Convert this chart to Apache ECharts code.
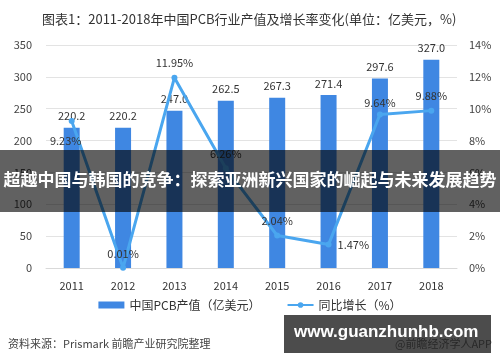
<!DOCTYPE html>
<html><head><meta charset="utf-8">
<script src="https://cdn.jsdelivr.net/npm/echarts@6/dist/echarts.min.js"></script>
<style>html,body{margin:0;padding:0;background:#fff}#c{width:500px;height:362px}</style>
</head><body><div id="c"></div>
<script>
const years = ['2011','2012','2013','2014','2015','2016','2017','2018'];
const output = [220.2, 220.2, 247.0, 262.5, 267.3, 271.4, 297.6, 327.0];
const growth = [9.23, 0.01, 11.95, 6.26, 2.04, 1.47, 9.64, 9.88];
const growthLabelPos = ['bottom','top','top','top','top','right','top','top'];
const leftTicks = [0, 350, 50];
const rightTicks = [0, 14, 2];

const chart = echarts.init(document.getElementById('c'));
const font = '"Microsoft YaHei","Noto Sans CJK SC",sans-serif';
chart.setOption({
  animation: false,
  textStyle: {fontFamily: font},
  title: {
    text: '图表1：2011-2018年中国PCB行业产值及增长率变化(单位：亿美元，%)',
    left: 37, top: 8,
    textStyle: {fontSize: 13, fontWeight: 'normal', color: '#333', fontFamily: font}
  },
  grid: {left: 46, right: 43, top: 45, bottom: 94},
  legend: {
    bottom: 46, left: 'center', itemGap: 26, itemWidth: 26, itemHeight: 7,
    textStyle: {fontSize: 12, color: '#333'},
    data: [{name: '中国PCB产值（亿美元）', icon: 'rect'}, {name: '同比增长（%）'}]
  },
  xAxis: {
    type: 'category', data: years,
    axisLine: {lineStyle: {color: '#d9d9d9'}},
    axisTick: {show: false},
    axisLabel: {color: '#333', fontSize: 11, margin: 12}
  },
  yAxis: [{
    type: 'value', min: leftTicks[0], max: leftTicks[1], interval: leftTicks[2],
    axisLine: {show: false}, axisTick: {show: false},
    axisLabel: {color: '#444', fontSize: 11, margin: 14},
    splitLine: {lineStyle: {color: '#e3e3e3'}}
  }, {
    type: 'value', min: rightTicks[0], max: rightTicks[1], interval: rightTicks[2],
    axisLine: {show: false}, axisTick: {show: false},
    axisLabel: {color: '#444', fontSize: 11, margin: 12, formatter: '{value}%'},
    splitLine: {show: false}
  }],
  series: [{
    name: '中国PCB产值（亿美元）', type: 'bar', data: output, barWidth: 16,
    itemStyle: {color: '#3f87e2'},
    label: {show: true, position: 'top', color: '#333', fontSize: 11, distance: 6,
      formatter: p => p.value.toFixed(1)}
  }, {
    name: '同比增长（%）', type: 'line', yAxisIndex: 1,
    data: growth.map((v, i) => ({value: v, label: i === 0
      ? {position: 'bottom', offset: [-6, 5]}
      : {position: growthLabelPos[i], distance: i === 6 ? 3 : 6}})),
    symbol: 'circle', symbolSize: 6,
    lineStyle: {color: '#4aa6ef', width: 3},
    itemStyle: {color: '#4aa6ef'},
    label: {show: true, color: '#333', fontSize: 11, distance: 6,
      formatter: p => p.value.toFixed(2) + '%'}
  }],
  graphic: [
    {type: 'text', left: 8, top: 338, style: {text: '资料来源：Prismark 前瞻产业研究院整理', fill: '#444', font: '11px ' + font}},
    {type: 'text', right: 8, top: 338, style: {text: '@前瞻经济学人APP', fill: '#888', font: '11px ' + font}},
    {type: 'rect', z: 100, shape: {x: 0, y: 150, width: 500, height: 62}, style: {fill: 'rgba(0,0,0,0.62)'}},
    {type: 'text', z: 101, left: 'center', top: 171, style: {text: '超越中国与韩国的竞争：探索亚洲新兴国家的崛起与未来发展趋势', fill: '#fff', font: 'bold 17px ' + font}},
    {type: 'rect', z: 100, shape: {x: 284, y: 315, width: 207, height: 38}, style: {fill: 'rgba(0,0,0,0.7)'}},
    {type: 'text', z: 101, left: 294, top: 324, style: {text: 'www.guanzhunhb.com', fill: '#fff', font: 'bold 17px "Liberation Sans",Arial,sans-serif'}}
  ]
});
</script></body></html>
